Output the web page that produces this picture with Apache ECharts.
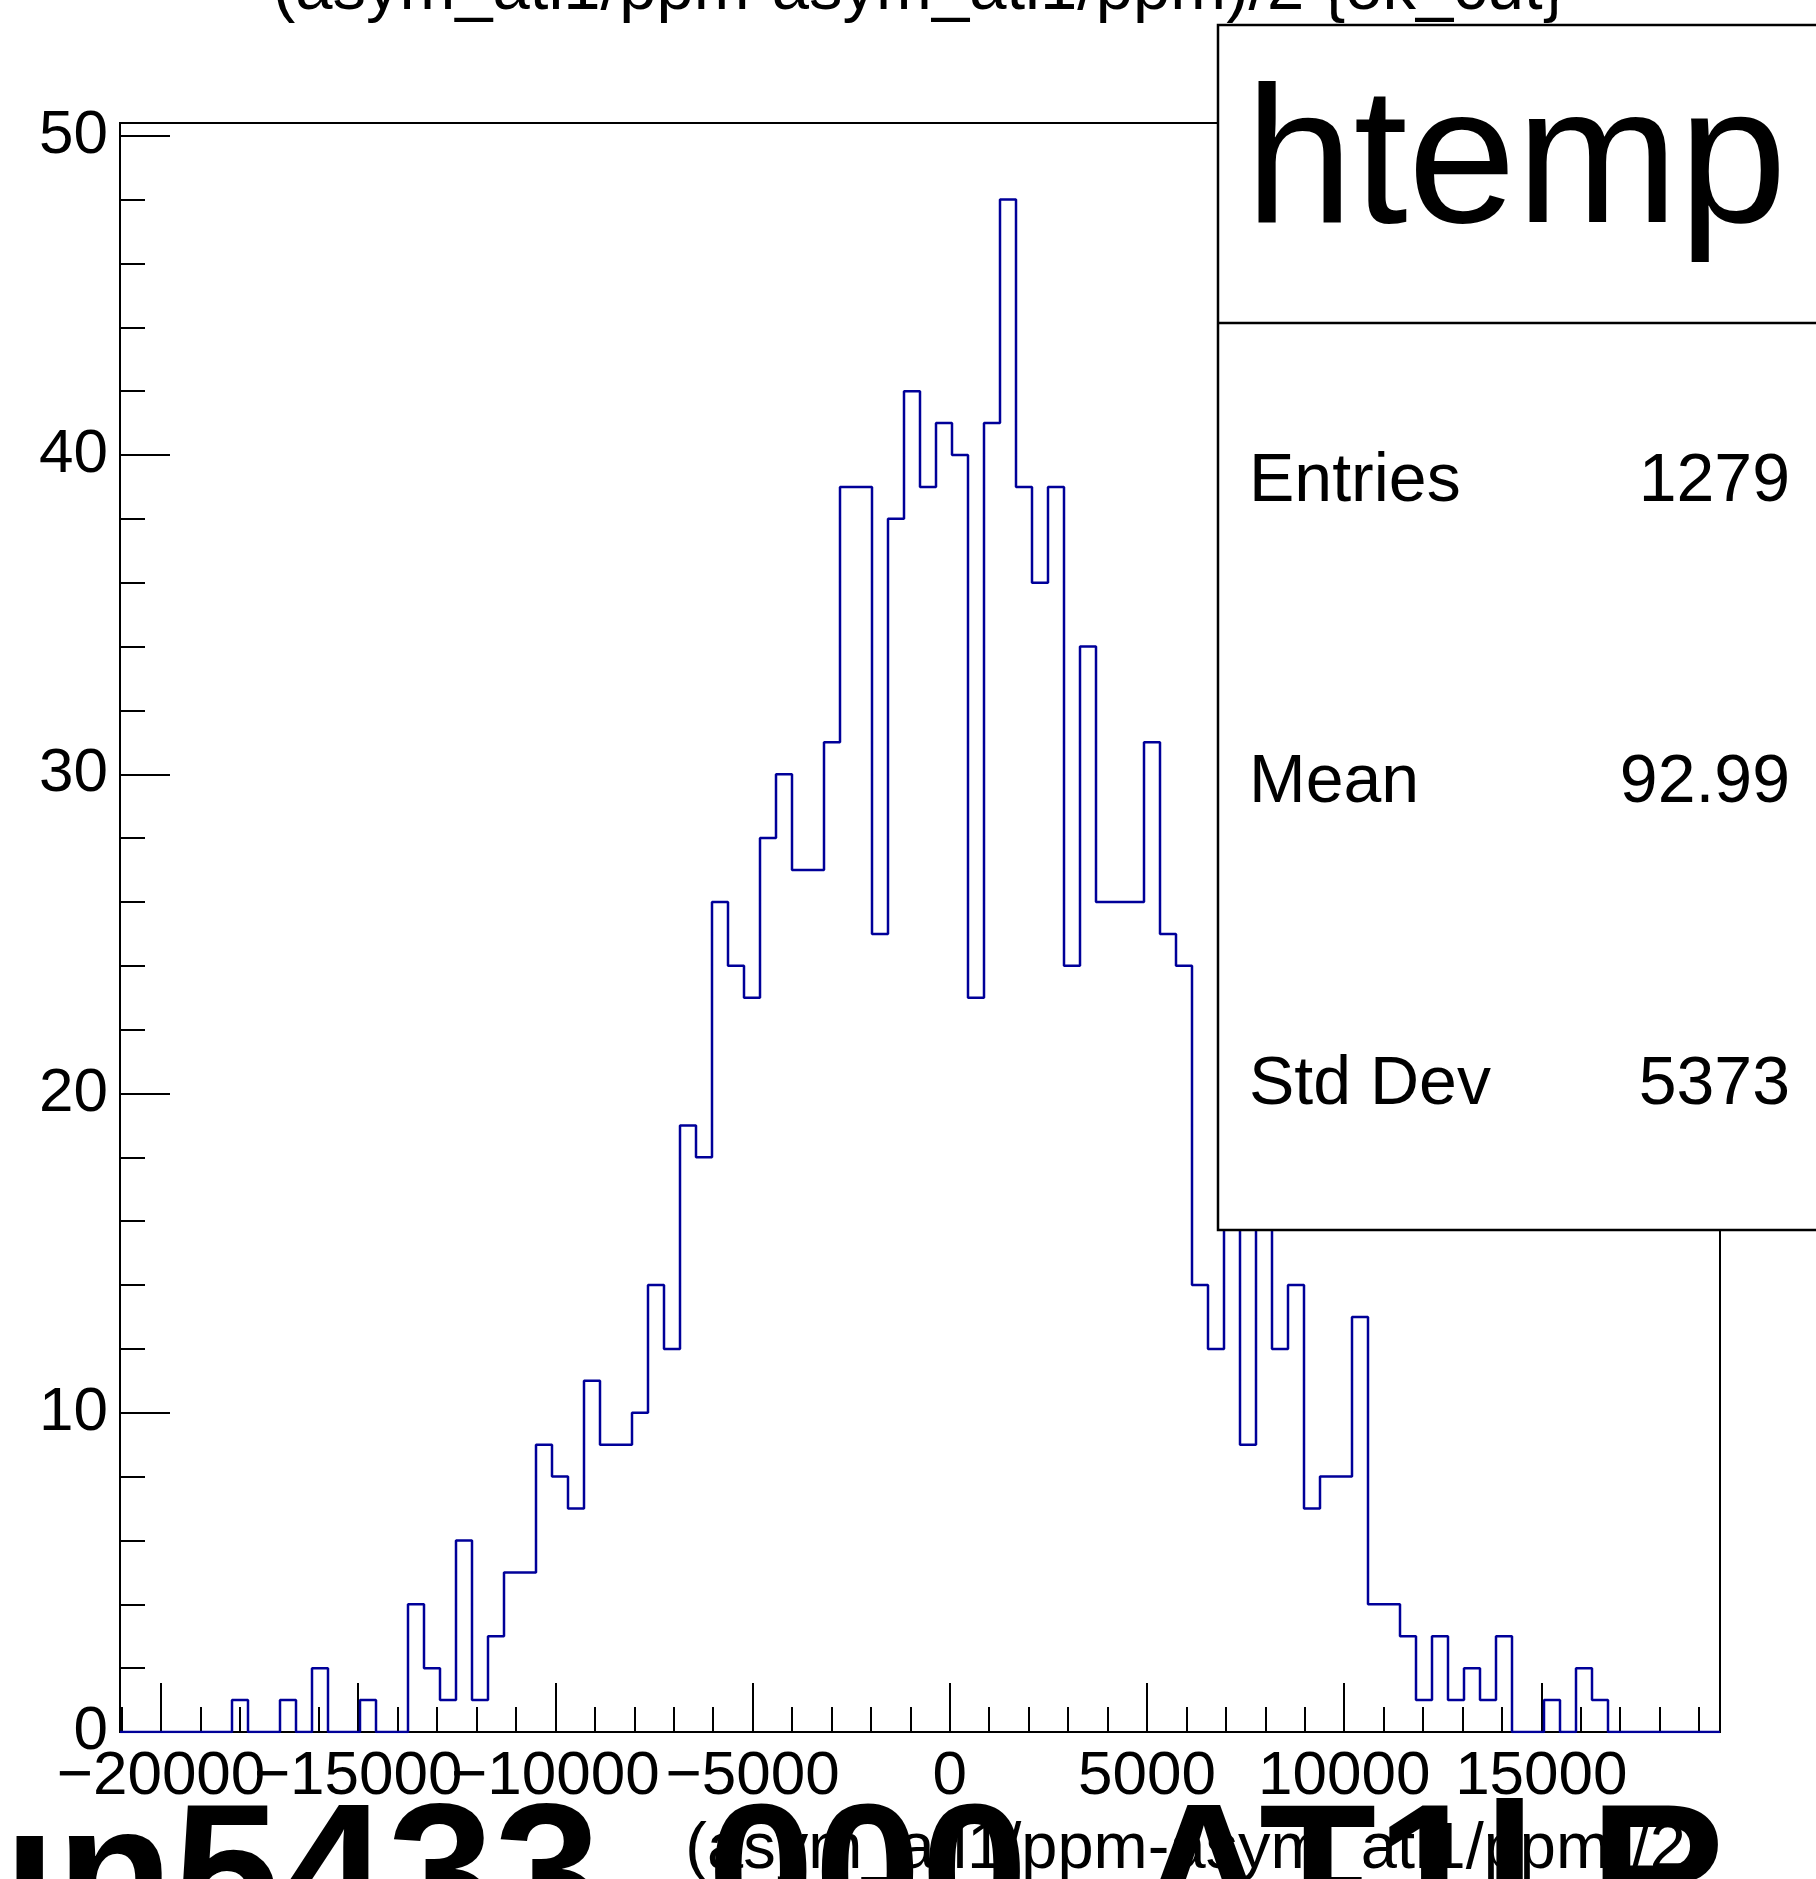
<!DOCTYPE html>
<html>
<head>
<meta charset="utf-8">
<title>htemp</title>
<script src="https://cdn.jsdelivr.net/npm/echarts@6/dist/echarts.min.js"></script>
<style>
  html, body { margin: 0; padding: 0; background: #fff; }
  #chart { width: 1816px; height: 1879px; }
</style>
</head>
<body>
<div id="chart"></div>
<script>
// histogram range (100 bins)
const xMin = -21040
const xMax = 19530
const nBins = 100

// bin contents, bin 0 .. 99
const binCounts = [
  0, 0, 0, 0, 0, 0, 0, 1, 0, 0,
  1, 0, 2, 0, 0, 1, 0, 0, 4, 2,
  1, 6, 1, 3, 5, 5, 9, 8, 7, 11,
  9, 9, 10, 14, 12, 19, 18, 26, 24, 23,
  28, 30, 27, 27, 31, 39, 39, 25, 38, 42,
  39, 41, 40, 23, 41, 48, 39, 36, 39, 24,
  34, 26, 26, 26, 31, 25, 24, 14, 12, 18,
  9, 19, 12, 14, 7, 8, 8, 13, 4, 4,
  3, 1, 3, 1, 2, 1, 3, 0, 0, 1,
  0, 2, 1, 0, 0, 0, 0, 0, 0, 0
]

const yMax = 50.4
const xMajorTicks = [-20000, -15000, -10000, -5000, 0, 5000, 10000, 15000]
const yMajorTicks = [0, 10, 20, 30, 40, 50]

const titleText = '(asym_atl1/ppm-asym_atl1/ppm)/2 {ok_cut}'
const xTitleText = '(asym_atl1/ppm-asym_atl1/ppm)/2'
const bigLabel = 'un5433_000_AT1l R'
const statsName = 'htemp'
const statsLabels = ['Entries', 'Mean', 'Std Dev']
const statsValues = ['1279', '92.99', '5373']

const FONT = '"Liberation Sans", Arial, Helvetica, sans-serif'
const LINE_COLOR = '#000099'

// minor ticks every 1000 / every 2
const xMinorTicks = []
for (let v = -21000; v <= 19000; v += 1000) {
  if (v % 5000 !== 0) xMinorTicks.push(v)
}
const yMinorTicks = []
for (let v = 2; v < 50; v += 2) {
  if (v % 10 !== 0) yMinorTicks.push(v)
}
// labels split in two sets so the slightly overlapping ones both stay
const xLabelsA = xMajorTicks.filter((v, i) => i % 2 === 0)
const xLabelsB = xMajorTicks.filter((v, i) => i % 2 === 1)

// step outline: left edge of each bin + closing right edge
const binWidth = (xMax - xMin) / nBins
const histPoints = binCounts.map((c, i) => [xMin + i * binWidth, c])
histPoints.push([xMax, binCounts[nBins - 1]])

const chart = echarts.init(document.getElementById('chart'), null, { renderer: 'canvas' })

function text(str, x, y, size, align, weight) {
  return {
    type: 'text',
    z: 120,
    style: {
      text: str,
      x: x,
      y: y,
      font: (weight || 'normal') + ' ' + size + 'px ' + FONT,
      fill: '#000',
      align: align,
      textAlign: align,
      verticalAlign: 'middle',
      textVerticalAlign: 'middle'
    }
  }
}

const statsRowsY = [482, 783, 1085]
const graphics = [
  // stats box
  {
    type: 'rect',
    z: 100,
    shape: { x: 1218, y: 25, width: 700, height: 1205 },
    style: { fill: '#fff', stroke: '#000', lineWidth: 2.5 }
  },
  {
    type: 'line',
    z: 101,
    shape: { x1: 1218, y1: 323, x2: 1816, y2: 323 },
    style: { stroke: '#000', lineWidth: 2.5 }
  },
  text(statsName, 1245, 168, 195, 'left'),
  // title, x title and big run label
  text(titleText, 919, -9, 67, 'center'),
  text(xTitleText, 1686, 1850, 65, 'right'),
  text(bigLabel, -61, 1884, 192, 'left', 'bold')
]
statsLabels.forEach((lab, i) => {
  graphics.push(text(lab, 1249, statsRowsY[i], 68, 'left'))
  graphics.push(text(statsValues[i], 1790, statsRowsY[i], 68, 'right'))
})

const tickStyle = { color: '#000', width: 2 }
const labelStyle = { color: '#000', fontSize: 62, fontFamily: FONT }

function xAxisLayer(ticks, tickLen, labels) {
  return {
    type: 'value',
    min: xMin,
    max: xMax,
    position: 'bottom',
    axisLine: { show: false, onZero: false },
    splitLine: { show: false },
    axisTick: ticks
      ? { show: true, inside: true, length: tickLen, lineStyle: tickStyle, customValues: ticks }
      : { show: false },
    axisLabel: labels
      ? {
          ...labelStyle,
          margin: 14,
          hideOverlap: false,
          showMinLabel: true,
          showMaxLabel: true,
          customValues: labels,
          formatter: v => String(v).replace('-', '\u2212')
        }
      : { show: false }
  }
}

chart.setOption({
  animation: false,
  backgroundColor: '#fff',
  grid: {
    left: 120,
    top: 123,
    width: 1600,
    height: 1609,
    show: true,
    borderColor: '#000',
    borderWidth: 2,
    backgroundColor: 'transparent'
  },
  xAxis: [
    xAxisLayer(xMajorTicks, 49, xLabelsA),
    xAxisLayer(xMinorTicks, 25, null),
    xAxisLayer(null, 0, xLabelsB)
  ],
  yAxis: [{
    type: 'value',
    min: 0,
    max: yMax,
    position: 'left',
    axisLine: { show: false, onZero: false },
    splitLine: { show: false },
    axisTick: { show: true, inside: true, length: 50, lineStyle: tickStyle, customValues: yMajorTicks },
    axisLabel: {
      ...labelStyle,
      margin: 12,
      hideOverlap: false,
      showMinLabel: true,
      showMaxLabel: true,
      customValues: yMajorTicks
    }
  }, {
    type: 'value',
    min: 0,
    max: yMax,
    position: 'left',
    axisLine: { show: false, onZero: false },
    splitLine: { show: false },
    axisLabel: { show: false },
    axisTick: { show: true, inside: true, length: 25, lineStyle: tickStyle, customValues: yMinorTicks }
  }],
  series: [{
    type: 'line',
    name: 'htemp',
    xAxisIndex: 0,
    yAxisIndex: 0,
    step: 'end',
    symbol: 'none',
    data: histPoints,
    lineStyle: { color: LINE_COLOR, width: 2.5 },
    z: 5
  }],
  graphic: { elements: graphics }
})
</script>
</body>
</html>
